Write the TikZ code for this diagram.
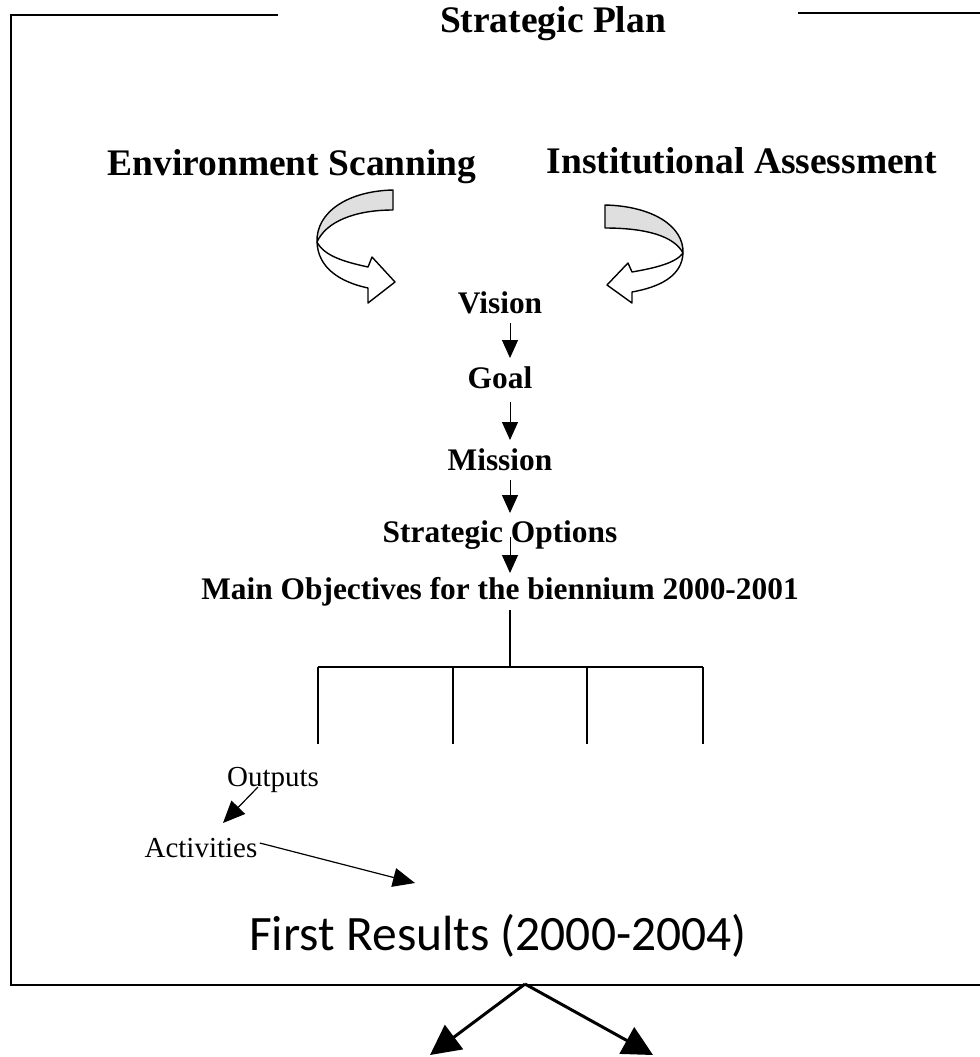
\documentclass[tikz,border=0pt]{standalone}
\usepackage{fontspec}
\setmainfont{Liberation Serif}
\newfontfamily\resultfont{Carlito}
\usetikzlibrary{arrows.meta}

\begin{document}
\begin{tikzpicture}[x=0.5pt,y=-0.5pt]
\tikzset{>={Triangle[width=8pt,length=9pt]}}
\tikzstyle{heading}=[inner sep=0pt,anchor=base,font=\bfseries\fontsize{18.75pt}{22pt}\selectfont]
\tikzstyle{stage}=[inner sep=0pt,anchor=base,font=\bfseries\fontsize{15.7pt}{19pt}\selectfont]
\tikzstyle{task}=[inner sep=0pt,anchor=base,font=\fontsize{14.5pt}{17pt}\selectfont]
\tikzstyle{ribbon}=[line width=0.7pt,line join=round]
\useasboundingbox (0,0) rectangle (980,1057);

% frame
\draw[line width=1pt] (278,15) -- (11,15) -- (11,985) -- (980,985);
\draw[line width=1pt] (798,13) -- (980,13);

\node[heading](plan) at (553,32){Strategic Plan};
\node[heading](scan) at (292,175){Environment Scanning};
\node[heading](assess) at (742,173){Institutional Assessment};

% curved arrows
\draw[ribbon,fill=gray!25] (393,190) .. controls (348,191) and (316,212) .. (317,242)
  .. controls (326,222) and (354,210) .. (393,210) -- cycle;
\draw[ribbon,fill=white] (317,242) .. controls (318,268) and (340,282) .. (368,288)
  -- (368,303) -- (395,282) -- (372,257) -- (368,267)
  .. controls (345,262) and (324,256) .. (317,242) -- cycle;
\draw[ribbon,fill=gray!25] (605,205) .. controls (652,206) and (684,226) .. (683,253)
  .. controls (674,236) and (646,228) .. (605,228) -- cycle;
\draw[ribbon,fill=white] (683,253) .. controls (682,276) and (660,287) .. (632,292)
  -- (632,303) -- (607,285) -- (628,263) -- (632,272)
  .. controls (655,268) and (676,263) .. (683,253) -- cycle;

\node[stage](vision) at (500,313){Vision};
\node[stage](goal) at (500,388){Goal};
\node[stage](mission) at (500,470){Mission};
\node[stage](options) at (500,542){Strategic Options};
\node[stage](objectives) at (500,599){Main Objectives for the biennium 2000-2001};

\draw [->,line width=0.5pt] ([shift={(10,10)}]vision.base) -- ([shift={(10,-30)}]goal.base);
\draw [->,line width=0.5pt] ([shift={(10,14)}]goal.base) -- ([shift={(10,-30)}]mission.base);
\draw [->,line width=0.5pt] ([shift={(10,10)}]mission.base) -- ([shift={(10,-29)}]options.base);
\draw [->,line width=0.5pt] ([shift={(10,-5)}]options.base) -- ([shift={(10,-26)}]objectives.base);

% branches
\coordinate (fork) at (510,667);
\draw[line width=0.75pt] ([shift={(10,11)}]objectives.base) -- (fork);
\draw[line width=0.75pt] (318,667) -- (703,667);
\foreach \x in {318,453,587,703}
  \draw[line width=0.75pt] (\x,667) -- (\x,744);

\node[task](outputs) at (273,786){Outputs};
\node[task](activities) at (201,857){Activities};
\node[anchor=base,inner sep=0pt,font=\resultfont\fontsize{24.75pt}{30pt}\selectfont](results) at (498,950){First Results (2000-2004)};

\draw [-{Triangle[width=9.5pt,length=11pt]},line width=0.6pt] ([shift={(-15,1)}]outputs.base) -- ([shift={(22,-34)}]activities.base);
\draw [-{Triangle[width=9.5pt,length=11pt]},line width=0.6pt] ([shift={(2,-14)}]activities.base east) -- ([shift={(-83,-67)}]results.base);

% split below the frame
\coordinate (split) at (525,984);
\coordinate (left) at (430,1055);
\coordinate (right) at (653,1055);
\draw [-{Triangle[width=15pt,length=15pt]},line width=1.5pt] (split) -- (left);
\draw [-{Triangle[width=15pt,length=15pt]},line width=1.5pt] (split) -- (right);
\end{tikzpicture}
\end{document}
